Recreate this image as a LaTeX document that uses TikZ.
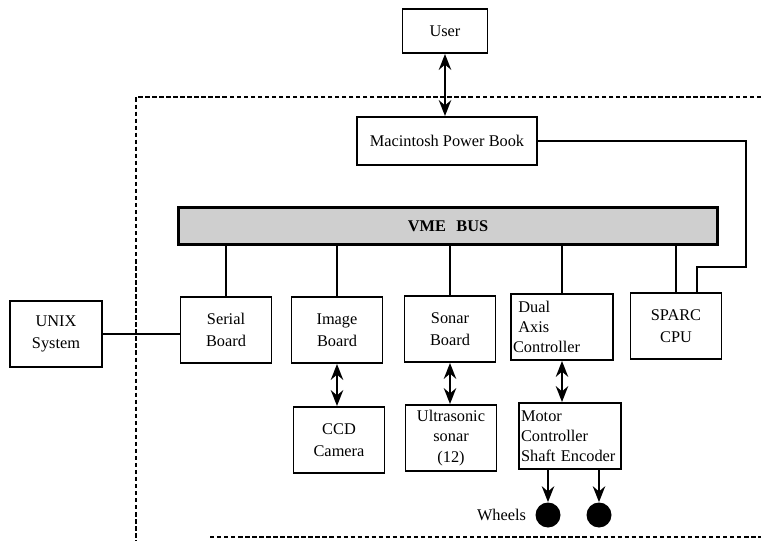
\documentclass[tikz,border=0pt]{standalone}
\usepackage{fontspec}
\setmainfont{Liberation Serif}
\usetikzlibrary{arrows.meta,positioning}

\begin{document}
\begin{tikzpicture}[x=0.02cm, y=-0.02cm,
    blk/.style={draw, line width=1.1pt, minimum width=1.82cm, minimum height=1.32cm, align=center, inner sep=2pt, font=\fontsize{9.3}{11.5}\selectfont},
    blkl/.style={blk, align=left, text width=1.96cm, inner xsep=0.04cm},
    bus/.style={draw, line width=1.4pt, fill=gray!38, minimum width=10.78cm, minimum height=0.74cm, font=\fontsize{9.3}{11}\selectfont\bfseries},
    wire/.style={line width=1.2pt},
    dbl/.style={line width=1.4pt, {Stealth[length=9pt,width=7pt]}-{Stealth[length=9pt,width=7pt]}},
    drive/.style={line width=1.4pt, -{Stealth[length=9pt,width=7pt]}},
    wheel/.style={circle, fill=black, minimum size=0.5cm, inner sep=0pt},
    frame/.style={line width=0.6pt, dash pattern=on 2.5pt off 1.5pt},
    lbl/.style={font=\fontsize{9.3}{11}\selectfont, inner sep=1pt}
  ]
  \useasboundingbox (0,0) rectangle (761,541);

  \node[blk, minimum width=1.7cm, minimum height=0.88cm] (user) at (445,31) {User};
  \node[blk, minimum width=3.6cm, minimum height=0.96cm] (mac) at (447,141) {Macintosh Power Book};
  \node[bus] (vme) at (448,226) {VME\hspace{6pt}BUS};

  \node[blk, minimum width=1.84cm] (unix) at (56,334) {UNIX\\[1pt] System};
  \node[blk] (serial) at (226,330) {Serial\\[1pt] Board};
  \node[blk] (image) at (337,330) {Image\\[1pt] Board};
  \node[blk] (sonar) at (450,329) {Sonar\\[1pt] Board};
  \node[blkl] (dual) at (562,327) {\hspace*{3pt}Dual\\\hspace*{3pt}Axis\\Controller};
  \node[blk] (sparc) at (676,326) {SPARC\\[1pt] CPU};

  \node[blk] (ccd) at (339,440) {CCD\\[1pt] Camera};
  \node[blk] (ultra) at (451,438) {Ultrasonic\\sonar\\(12)};
  \node[blkl] (motor) at (570,436) {Motor\\Controller\\Shaft Encoder};

  \node[wheel] (w1) at (548,515) {};
  \node[wheel] (w2) at (599,515) {};
  \node[lbl, left=0.14cm of w1] (whl) {Wheels};

  \draw[dbl] (user.south) -- (user.south |- mac.north);
  \foreach \bd in {serial,image,sonar,dual,sparc}
    \draw[wire] (\bd.north) -- (\bd.north |- vme.south);
  \draw[wire] (unix.east) -- (unix.east -| serial.west);
  \coordinate (turnA) at (746,267);
  \coordinate (turnB) at (697,267);
  \draw[wire] (mac.east) -| (turnA) -- (turnB) -- (turnB |- sparc.north);
  \draw[dbl] (image.south) -- (image.south |- ccd.north);
  \draw[dbl] (sonar.south) -- (sonar.south |- ultra.north);
  \draw[dbl] (dual.south) -- (dual.south |- motor.north);
  \draw[drive] (w1 |- motor.south) -- (w1);
  \draw[drive] (w2 |- motor.south) -- (w2);

  \draw[frame] (761,97) -- (136,97) -- (136,541);
  \draw[frame] (210,537) -- (761,537);
\end{tikzpicture}
\end{document}
